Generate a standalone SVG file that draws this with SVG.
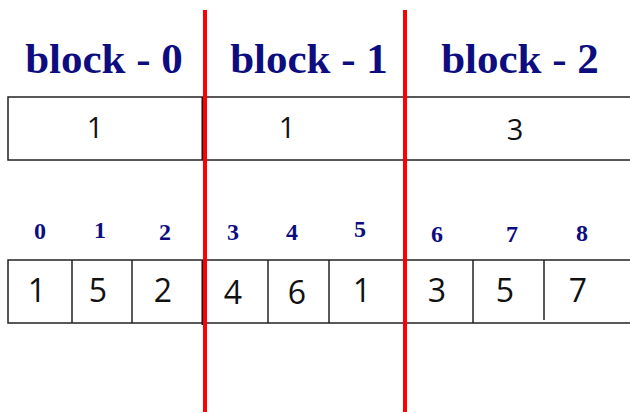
<svg xmlns="http://www.w3.org/2000/svg" width="630" height="414" viewBox="0 0 630 414">
<style>
.blk{font-family:"Liberation Serif",serif;font-weight:bold;font-size:43px;fill:#0d0d80;text-anchor:middle}
.idx{font-family:"Liberation Serif",serif;font-weight:bold;font-size:24px;fill:#0d0d80;text-anchor:middle}
.val{font-family:"Open Sans","Noto Sans",sans-serif;font-size:29px;fill:#111;text-anchor:middle}
.val2{font-family:"Open Sans","Noto Sans",sans-serif;font-size:32px;fill:#111;text-anchor:middle}
.cell{fill:none;stroke:#222;stroke-width:1.5}
.div{stroke:#111;stroke-width:3}
.red{stroke:#ff0000;stroke-width:4}
</style>
<rect width="630" height="414" fill="#fff"/>
<g id="headers">
<text class="blk" x="104" y="73">block - 0</text>
<text class="blk" x="309" y="73">block - 1</text>
<text class="blk" x="520" y="73">block - 2</text>
</g>
<g id="top-row">
<rect class="cell" x="8" y="97" width="630" height="63"/>
<line class="div" x1="203" y1="97" x2="203" y2="160"/>
<line class="div" x1="405" y1="97" x2="405" y2="160"/>
<text class="val" x="95" y="138">1</text>
<text class="val" x="287" y="138">1</text>
<text class="val" x="515" y="140">3</text>
</g>
<g id="indices">
<text class="idx" x="40" y="239">0</text>
<text class="idx" x="100" y="238">1</text>
<text class="idx" x="165" y="240">2</text>
<text class="idx" x="233" y="240">3</text>
<text class="idx" x="292" y="240">4</text>
<text class="idx" x="360" y="237">5</text>
<text class="idx" x="437" y="242">6</text>
<text class="idx" x="512" y="242">7</text>
<text class="idx" x="582" y="241">8</text>
</g>
<g id="array">
<rect class="cell" x="8" y="260" width="630" height="63"/>
<line class="cell" x1="72" y1="260" x2="72" y2="323"/>
<line class="cell" x1="132" y1="260" x2="132" y2="323"/>
<line class="div" x1="203" y1="260" x2="203" y2="325"/>
<line class="cell" x1="268" y1="260" x2="268" y2="323"/>
<line class="cell" x1="329" y1="260" x2="329" y2="323"/>
<line class="div" x1="405" y1="260" x2="405" y2="322"/>
<line class="cell" x1="473" y1="260" x2="473" y2="323"/>
<line class="cell" x1="544" y1="260" x2="544" y2="320"/>
<text class="val2" x="37" y="302">1</text>
<text class="val2" x="98" y="302">5</text>
<text class="val2" x="163" y="302">2</text>
<text class="val2" x="233" y="304">4</text>
<text class="val2" x="297" y="304">6</text>
<text class="val2" x="362" y="302">1</text>
<text class="val2" x="437" y="302">3</text>
<text class="val2" x="505" y="302">5</text>
<text class="val2" x="578" y="302">7</text>
</g>
<g id="connectors">
<line class="red" x1="205" y1="10" x2="205" y2="412"/>
<line class="red" x1="405" y1="10" x2="405" y2="412"/>
</g>
</svg>
